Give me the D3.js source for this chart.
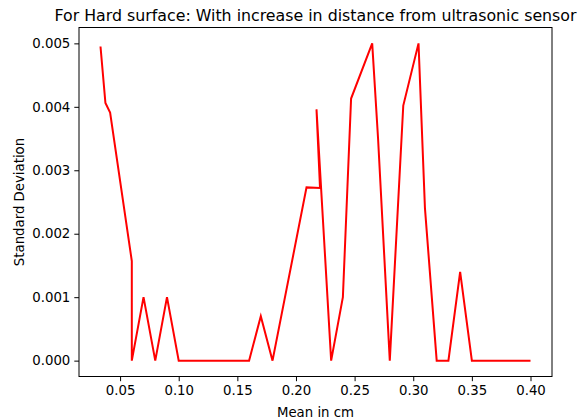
<!DOCTYPE html>
<html>
<head>
<meta charset="utf-8">
<script src="https://cdn.jsdelivr.net/npm/d3@7"></script>
<style>
  html, body { margin: 0; padding: 0; background: #fff; }
  svg { display: block; }
  text { font-family: "DejaVu Sans", sans-serif; fill: #000; }
</style>
</head>
<body>
<svg id="chart" width="578" height="419"></svg>
<script>
const meanCm = [0.0333, 0.0375, 0.0415, 0.06, 0.06, 0.07, 0.08, 0.09, 0.10, 0.11, 0.12, 0.13, 0.14, 0.15, 0.16, 0.17, 0.18, 0.209, 0.2205, 0.2175, 0.23, 0.24, 0.247, 0.265, 0.27, 0.28, 0.2915, 0.3045, 0.31, 0.32, 0.33, 0.34, 0.35, 0.36, 0.37, 0.38, 0.39, 0.40];
const stdDev = [0.00495, 0.00406, 0.00391, 0.00157, 0, 0.001, 0, 0.001, 0, 0, 0, 0, 0, 0, 0, 0.0007, 0, 0.00273, 0.00272, 0.00396, 0, 0.001, 0.00413, 0.005, 0.0035, 0, 0.00402, 0.005, 0.0024, 0, 0, 0.0014, 0, 0, 0, 0, 0, 0];
const xTicks = [0.05, 0.10, 0.15, 0.20, 0.25, 0.30, 0.35, 0.40];
const yTicks = [0.000, 0.001, 0.002, 0.003, 0.004, 0.005];
const titleText = "For Hard surface: With increase in distance from ultrasonic sensor";
const xLabel = "Mean in cm";
const yLabel = "Standard Deviation";

const svg = d3.select("#chart");
const L = 79, R = 552, T = 27.5, B = 376.5;

function padded(ext) {
  const span = ext[1] - ext[0];
  return [ext[0] - span * 0.05, ext[1] + span * 0.05];
}
const x = d3.scaleLinear().domain(padded(d3.extent(meanCm))).range([L, R]);
const y = d3.scaleLinear().domain(padded(d3.extent(stdDev))).range([B, T]);

svg.append("rect").attr("width", 578).attr("height", 419).attr("fill", "#fff");

// line
const pts = meanCm.map((m, i) => [m, stdDev[i]]);
svg.append("path")
  .datum(pts)
  .attr("fill", "none")
  .attr("stroke", "#ff0000")
  .attr("stroke-width", 2)
  .attr("stroke-linejoin", "miter")
  .attr("d", d3.line().x(d => x(d[0])).y(d => y(d[1])));

// x axis
const xAxis = svg.append("g")
  .attr("transform", `translate(0,${B})`)
  .call(d3.axisBottom(x).tickValues(xTicks).tickFormat(d3.format(".2f")).tickSize(4.7).tickPadding(4.5).tickSizeOuter(0));
xAxis.select(".domain").remove();
xAxis.selectAll(".tick line").attr("stroke", "#000").attr("stroke-width", 1);
xAxis.selectAll(".tick text").attr("font-size", "13.3px").attr("font-family", "DejaVu Sans").attr("fill", "#000");

// y axis
const yAxis = svg.append("g")
  .attr("transform", `translate(${L},0)`)
  .call(d3.axisLeft(y).tickValues(yTicks).tickFormat(d3.format(".3f")).tickSize(4.7).tickPadding(4).tickSizeOuter(0));
yAxis.select(".domain").remove();
yAxis.selectAll(".tick line").attr("stroke", "#000").attr("stroke-width", 1);
yAxis.selectAll(".tick text").attr("font-size", "13.3px").attr("font-family", "DejaVu Sans").attr("fill", "#000");

// frame
svg.append("rect")
  .attr("x", L).attr("y", T)
  .attr("width", R - L).attr("height", B - T)
  .attr("fill", "none").attr("stroke", "#000").attr("stroke-width", 1);

// title
svg.append("text")
  .attr("x", (L + R) / 2).attr("y", 21)
  .attr("text-anchor", "middle")
  .attr("font-size", "15.8px")
  .text(titleText);

// x label
svg.append("text")
  .attr("x", (L + R) / 2).attr("y", 416.5)
  .attr("text-anchor", "middle")
  .attr("font-size", "13.3px")
  .text(xLabel);

// y label
svg.append("text")
  .attr("transform", `translate(23.5,${(T + B) / 2}) rotate(-90)`)
  .attr("text-anchor", "middle")
  .attr("font-size", "13.3px")
  .text(yLabel);
</script>
</body>
</html>
